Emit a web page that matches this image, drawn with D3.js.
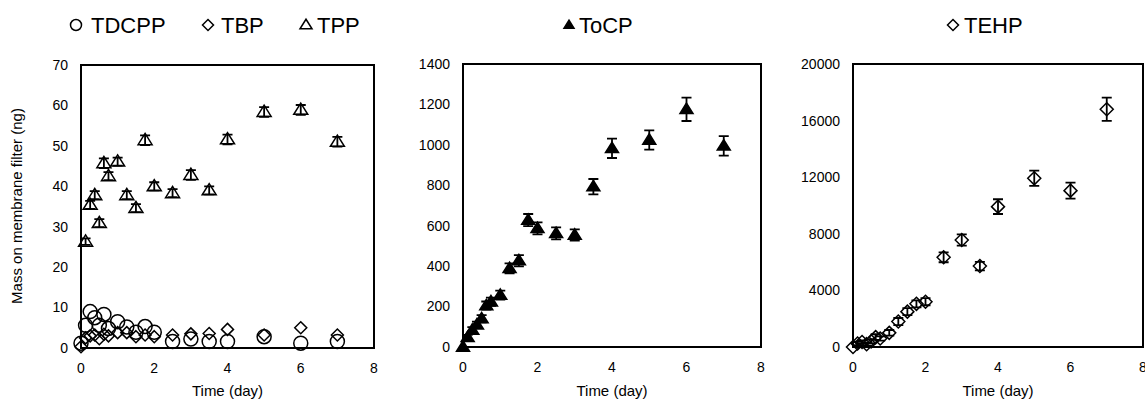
<!DOCTYPE html>
<html>
<head>
<meta charset="utf-8">
<script src="https://cdn.jsdelivr.net/npm/d3@7"></script>
<style>
  body { margin: 0; background: #fff; }
  text { font-family: "Liberation Sans", Arial, sans-serif; fill: #000; }
</style>
</head>
<body>
<svg id="chart" width="1145" height="401"></svg>
<script>
// sampling times (day), shared by every series
const days = [0, 0.125, 0.25, 0.375, 0.5, 0.625, 0.75, 1, 1.25, 1.5, 1.75, 2, 2.5, 3, 3.5, 4, 5, 6, 7];

// panel 1 (ng)
const tdcpp = [1.2, 5.6, 9.0, 7.5, 5.6, 8.3, 4.8, 6.5, 5.2, 3.9, 5.3, 3.9, 1.6, 2.2, 1.6, 1.6, 2.8, 1.2, 1.6];
const tbp = [0.3, 2.5, 3.0, 3.2, 2.3, 3.4, 3.0, 3.8, 3.8, 2.8, 3.2, 2.8, 3.2, 3.5, 3.6, 4.6, 3.2, 5.0, 3.2];
const tpp = [null, 26.3, 35.4, 37.8, 30.9, 45.7, 42.5, 46.1, 37.8, 34.6, 51.4, 40.0, 38.3, 42.8, 39.0, 51.6, 58.4, 58.9, 51.0];
const tppErr = [null, 0.8, 1, 1, 1, 1.2, 1, 1, 1, 1, 1.2, 1, 1, 1.2, 1, 1.2, 1.2, 1.2, 1.2];

// panel 2
const tocp = [0, 48, 84, 110, 140, 205, 224, 257, 389, 427, 628, 587, 562, 554, 793, 983, 1024, 1176, 995];
const tocpErr = [0, 12, 14, 16, 18, 20, 20, 22, 25, 28, 30, 30, 30, 28, 38, 48, 48, 58, 48];

// panel 3
const tehp = [0, 250, 350, 200, 400, 700, 600, 1000, 1800, 2500, 3050, 3200, 6340, 7560, 5720, 9920, 11920, 11050, 16800];
const tehpErr = [0, 120, 120, 100, 150, 200, 150, 200, 250, 250, 250, 250, 350, 400, 300, 520, 540, 560, 820];

const xTicks = [0, 2, 4, 6, 8];
const yTicks1 = [0, 10, 20, 30, 40, 50, 60, 70];
const yTicks2 = [0, 200, 400, 600, 800, 1000, 1200, 1400];
const yTicks3 = [0, 4000, 8000, 12000, 16000, 20000];

const svg = d3.select("#chart");

// marker shapes
function markerPath(type, s) {
    if (type == "circle") {
        let p = d3.path();
        p.arc(0, 0, s, 0, 2 * Math.PI);
        return p.toString();
    }
    if (type == "diamond") {
        return "M0," + (-s) + "L" + s + ",0L0," + s + "L" + (-s) + ",0Z";
    }
    // triangle
    let h = s * 1.6;
    return "M0," + (-h * 0.6) + "L" + s + "," + (h * 0.4) + "L" + (-s) + "," + (h * 0.4) + "Z";
}

function drawPanel(cfg) {
    let x = d3.scaleLinear().domain([0, 8]).range([cfg.left, cfg.right]);
    let y = d3.scaleLinear().domain([0, cfg.yMax]).range([cfg.bottom, cfg.top]);

    let g = svg.append("g");

    // y tick labels
    g.selectAll(".ytl")
        .data(cfg.yTicks)
        .enter()
        .append("text")
        .attr("x", cfg.left - 13)
        .attr("y", d => y(d))
        .attr("dy", "0.35em")
        .attr("text-anchor", "end")
        .style("font-size", "14px")
        .text(d => d3.format("d")(d));

    // x tick labels
    g.selectAll(".xtl")
        .data(xTicks)
        .enter()
        .append("text")
        .attr("x", d => x(d))
        .attr("y", cfg.bottom + 25)
        .attr("text-anchor", "middle")
        .style("font-size", "14px")
        .text(d => d);

    g.append("text")
        .attr("x", (cfg.left + cfg.right) / 2)
        .attr("y", 396)
        .attr("text-anchor", "middle")
        .style("font-size", "15px")
        .text("Time (day)");

    cfg.series.forEach(function(s) {
        let pts = days.map((d, i) => ({t: d, v: s.values[i], e: s.err ? s.err[i] : null}))
                      .filter(p => p.v != null);

        // error bars
        let eb = pts.filter(p => p.e != null && p.e > 0);
        g.selectAll(null)
            .data(eb)
            .enter()
            .append("path")
            .attr("d", function(p) {
                let cx = x(p.t), y1 = y(p.v + p.e), y2 = y(p.v - p.e), c = 5;
                return "M" + cx + "," + y1 + "V" + y2 +
                       "M" + (cx - c) + "," + y1 + "H" + (cx + c) +
                       "M" + (cx - c) + "," + y2 + "H" + (cx + c);
            })
            .attr("stroke", "#000")
            .attr("stroke-width", 1.8)
            .attr("fill", "none");

        g.selectAll(null)
            .data(pts)
            .enter()
            .append("path")
            .attr("transform", p => "translate(" + x(p.t) + "," + y(p.v) + ")")
            .attr("d", markerPath(s.shape, s.size))
            .attr("fill", s.filled ? "#000" : "none")
            .attr("stroke", "#000")
            .attr("stroke-width", 1.5);
    });

    // plot box
    g.append("rect")
        .attr("x", cfg.left)
        .attr("y", cfg.top)
        .attr("width", cfg.right - cfg.left)
        .attr("height", cfg.bottom - cfg.top)
        .attr("fill", "none")
        .attr("stroke", "#000")
        .attr("stroke-width", 2);

    // legend
    cfg.legend.forEach(function(l) {
        g.append("path")
            .attr("transform", "translate(" + l.mx + ",25)")
            .attr("d", markerPath(l.shape, l.size))
            .attr("fill", l.filled ? "#000" : "none")
            .attr("stroke", "#000")
            .attr("stroke-width", 1.5);
        g.append("text")
            .attr("x", l.tx)
            .attr("y", 33)
            .style("font-size", "22px")
            .text(l.label);
    });
}

drawPanel({
    left: 81, right: 374, top: 65, bottom: 348, yMax: 70, yTicks: yTicks1,
    series: [
        {values: tdcpp, shape: "circle", size: 7},
        {values: tbp, shape: "diamond", size: 6},
        {values: tpp, err: tppErr, shape: "triangle", size: 7}
    ],
    legend: [
        {label: "TDCPP", shape: "circle", size: 5.5, mx: 76, tx: 91},
        {label: "TBP", shape: "diamond", size: 5.5, mx: 208, tx: 221},
        {label: "TPP", shape: "triangle", size: 6, mx: 306, tx: 317}
    ]
});

drawPanel({
    left: 463, right: 761, top: 64, bottom: 347, yMax: 1400, yTicks: yTicks2,
    series: [
        {values: tocp, err: tocpErr, shape: "triangle", size: 6.5, filled: true}
    ],
    legend: [
        {label: "ToCP", shape: "triangle", size: 5, filled: true, mx: 569, tx: 579}
    ]
});

drawPanel({
    left: 853, right: 1143, top: 64, bottom: 347, yMax: 20000, yTicks: yTicks3,
    series: [
        {values: tehp, err: tehpErr, shape: "diamond", size: 6.5}
    ],
    legend: [
        {label: "TEHP", shape: "diamond", size: 5.5, mx: 953, tx: 964}
    ]
});

// shared y axis title
svg.append("text")
    .attr("transform", "translate(22,206) rotate(-90)")
    .attr("text-anchor", "middle")
    .style("font-size", "15px")
    .text("Mass on membrane filter (ng)");
</script>
</body>
</html>
